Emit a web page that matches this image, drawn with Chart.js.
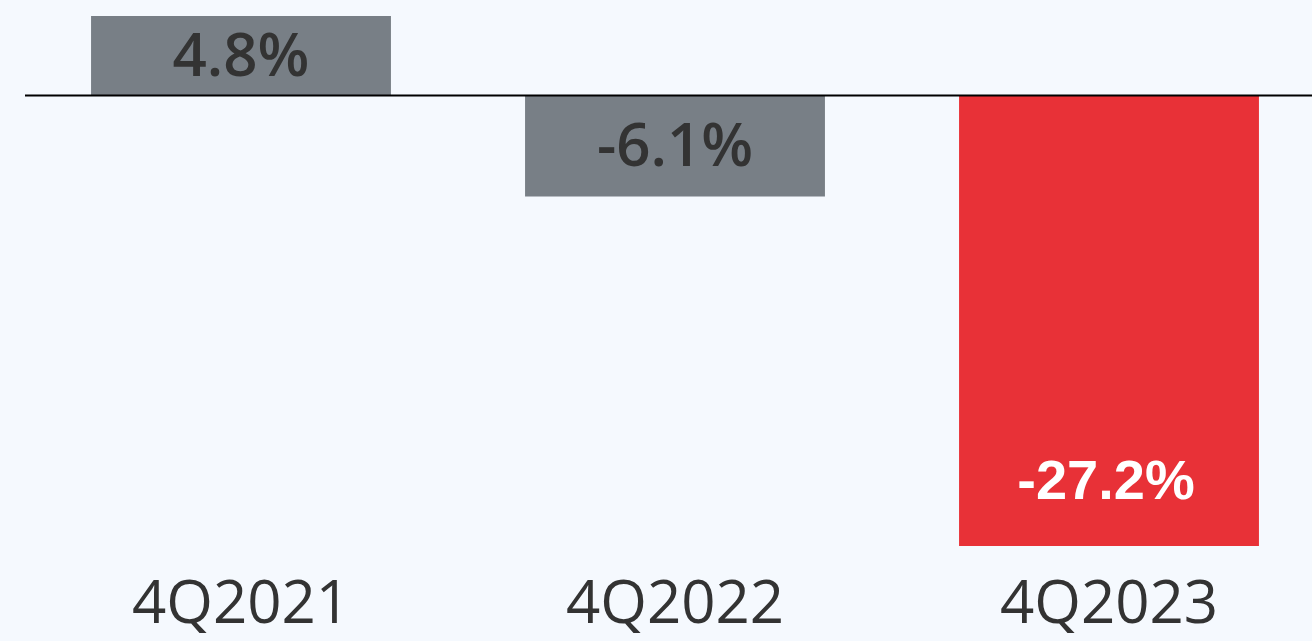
<!DOCTYPE html>
<html>
<head>
<meta charset="utf-8">
<script src="https://cdn.jsdelivr.net/npm/chart.js@4.4.0/dist/chart.umd.min.js"></script>
<style>
  html, body { margin: 0; padding: 0; background: #f5f9fe; overflow: hidden; }
  #wrap { width: 1326px; height: 641px; }
</style>
</head>
<body>
<div id="wrap"><canvas id="chart"></canvas></div>
<script>
// data
const quarters = ["4Q2021", "4Q2022", "4Q2023"];
const changePct = [4.8, -6.1, -27.2];

const barColors = ["#787f86", "#787f86", "#e83137"];
const labelColors = ["#333333", "#333333", "#ffffff"];

// zero line across the plot
const zeroLine = {
  id: "zeroLine",
  afterDatasetsDraw(chart) {
    const ctx = chart.ctx;
    const y = chart.scales.y.getPixelForValue(0);
    ctx.save();
    ctx.strokeStyle = "#000";
    ctx.lineWidth = 2;
    ctx.beginPath();
    ctx.moveTo(chart.chartArea.left + 1, y);
    ctx.lineTo(chart.width, y);
    ctx.stroke();
    ctx.restore();
  },
};

// value labels inside the bars
const valueLabels = {
  id: "valueLabels",
  afterDatasetsDraw(chart) {
    const ctx = chart.ctx;
    const meta = chart.getDatasetMeta(0);
    ctx.save();
    ctx.textAlign = "center";
    ctx.textBaseline = "middle";
    meta.data.forEach((bar, i) => {
      const h = Math.abs(bar.base - bar.y);
      const dir = bar.y < bar.base ? 1 : -1; // 1 = going up
      let y;
      if (h / 2 < 62) {
        y = (bar.y + bar.base) / 2 + 3;
      } else {
        y = bar.y + dir * 62;
      }
      ctx.fillStyle = labelColors[i];
      ctx.font = i === 2 ? "bold 56px 'Liberation Sans'" : "600 60px 'Open Sans'";
      ctx.fillText(changePct[i].toFixed(1) + "%", bar.x - (i === 2 ? 3 : 0), y);
    });
    ctx.restore();
  },
};

const ctx = document.getElementById("chart").getContext("2d");
new Chart(ctx, {
  type: "bar",
  data: {
    labels: quarters,
    datasets: [
      {
        data: changePct,
        backgroundColor: barColors,
        borderWidth: 0,
        barPercentage: 1,
        categoryPercentage: 0.691,
      },
    ],
  },
  options: {
    responsive: true,
    maintainAspectRatio: false,
    animation: false,
    layout: {
      padding: { left: 24, top: 16, right: 0, bottom: 0 },
    },
    plugins: {
      legend: { display: false },
      tooltip: { enabled: false },
    },
    scales: {
      x: {
        grid: { display: false },
        border: { display: false },
        ticks: {
          color: "#333333",
          font: { family: "'Open Sans'", size: 60 },
          padding: 16,
        },
        afterFit(scale) {
          scale.height = 95; // chart area ends at y=546
        },
      },
      y: {
        display: false,
        min: -27.2,
        max: 4.8,
      },
    },
  },
  plugins: [zeroLine, valueLabels],
});
</script>
</body>
</html>
